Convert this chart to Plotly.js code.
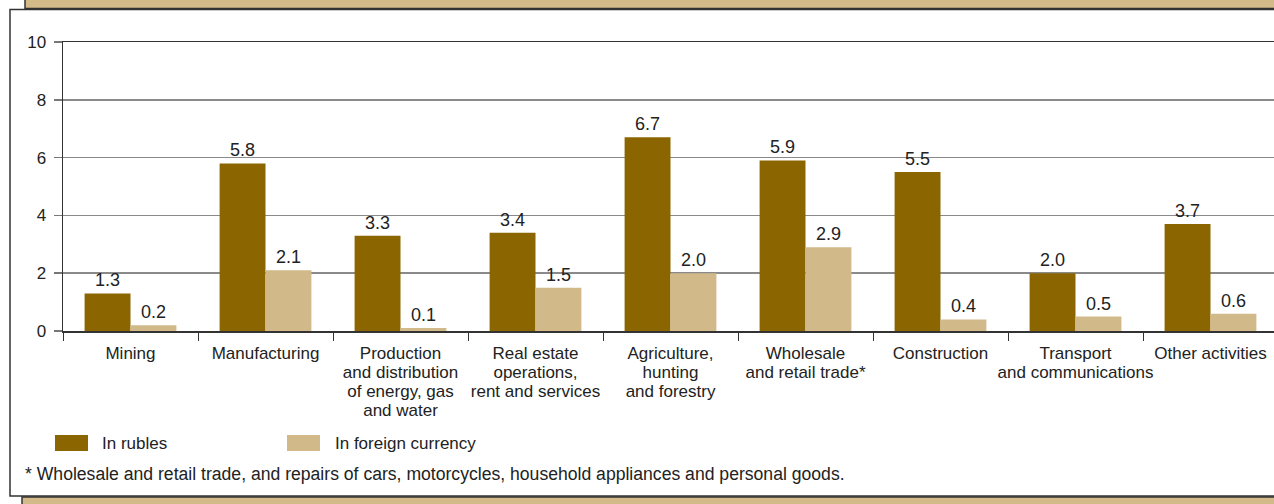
<!DOCTYPE html>
<html>
<head>
<meta charset="utf-8">
<script src="https://cdn.plot.ly/plotly-3.0.1.min.js"></script>
<style>
html,body{margin:0;padding:0;background:#fff;overflow:hidden;}
#chart{width:1274px;height:504px;}
</style>
</head>
<body>
<div id="chart"></div>
<script>
// ---- data ----
const categories = [
  "Mining",
  "Manufacturing",
  "Production<br>and distribution<br>of energy, gas<br>and water",
  "Real estate<br>operations,<br>rent and services",
  "Agriculture,<br>hunting<br>and forestry",
  "Wholesale<br>and retail trade*",
  "Construction",
  "Transport<br>and communications",
  "Other activities"
];
const inRubles = [1.3, 5.8, 3.3, 3.4, 6.7, 5.9, 5.5, 2.0, 3.7];
const inForeign = [0.2, 2.1, 0.1, 1.5, 2.0, 2.9, 0.4, 0.5, 0.6];
const seriesNames = ["In rubles", "In foreign currency"];
const yTicks = [0, 2, 4, 6, 8, 10];
const footnote = "* Wholesale and retail trade, and repairs of cars, motorcycles, household appliances and personal goods.";

// ---- styling ----
const FONT = '"Liberation Sans", Arial, Helvetica, sans-serif';
const TXT = '#222';
const C_RUB = '#8B6600';
const C_FOR = '#D2B989';
const TAN = '#D3BA88';
const DARK = '#333';

const W = 1274, H = 504;
const L = 63, R = 0, T = 42, B = 173;
const pw = W - L - R, ph = H - T - B;
const catPx = 135;
const px2x = p => (p - L) / pw;
const px2y = p => (H - B - p) / ph;

const traces = [
  {type:'bar', name:seriesNames[0], x:categories, y:inRubles, marker:{color:C_RUB},
   texttemplate:'%{y:.1f}', textposition:'outside', cliponaxis:false,
   textfont:{family:FONT, size:18, color:TXT}, hoverinfo:'skip'},
  {type:'bar', name:seriesNames[1], x:categories, y:inForeign, marker:{color:C_FOR},
   texttemplate:'%{y:.1f}', textposition:'outside', cliponaxis:false,
   textfont:{family:FONT, size:18, color:TXT}, hoverinfo:'skip'}
];

const shapes = [
  {type:'rect', xref:'paper', yref:'paper', layer:'below',
   x0:px2x(25), x1:px2x(1290), y0:px2y(-5), y1:px2y(8.5),
   fillcolor:TAN, line:{color:DARK, width:1.5}},
  {type:'rect', xref:'paper', yref:'paper', layer:'below',
   x0:px2x(10), x1:px2x(1290), y0:px2y(9.5), y1:px2y(496),
   fillcolor:'rgba(0,0,0,0)', line:{color:DARK, width:1.5}},
  {type:'rect', xref:'paper', yref:'paper', layer:'below',
   x0:px2x(22), x1:px2x(1290), y0:px2y(497), y1:px2y(510),
   fillcolor:TAN, line:{color:DARK, width:1.5}},
  {type:'rect', xref:'paper', yref:'paper',
   x0:px2x(55), x1:px2x(88), y0:px2y(435), y1:px2y(451),
   fillcolor:C_RUB, line:{width:0}},
  {type:'rect', xref:'paper', yref:'paper',
   x0:px2x(287), x1:px2x(320), y0:px2y(435), y1:px2y(451),
   fillcolor:C_FOR, line:{width:0}}
];

const annotations = [
  {xref:'paper', yref:'paper', x:px2x(100), y:px2y(443), xanchor:'left', yanchor:'middle',
   text:seriesNames[0], showarrow:false, font:{family:FONT, size:17, color:TXT}},
  {xref:'paper', yref:'paper', x:px2x(333), y:px2y(443), xanchor:'left', yanchor:'middle',
   text:seriesNames[1], showarrow:false, font:{family:FONT, size:17, color:TXT}},
  {xref:'paper', yref:'paper', x:px2x(23), y:px2y(474), xanchor:'left', yanchor:'middle',
   text:footnote, showarrow:false, font:{family:FONT, size:17.6, color:TXT}}
];

const layout = {
  width:W, height:H,
  margin:{l:L, r:R, t:T, b:B, pad:0},
  paper_bgcolor:'#fff', plot_bgcolor:'rgba(0,0,0,0)',
  font:{family:FONT, color:TXT},
  showlegend:false,
  barmode:'group', bargap:0.32, bargroupgap:0,
  xaxis:{
    type:'category', range:[-0.5, -0.5 + pw / catPx], fixedrange:true,
    showline:true, linecolor:DARK, linewidth:1.5, mirror:true,
    ticks:'outside', tickson:'boundaries', ticklen:8, tickcolor:DARK, tickwidth:1,
    showgrid:false, tickfont:{family:FONT, size:17, color:TXT}, tickangle:0,
    ticklabelstandoff:6
  },
  yaxis:{
    range:[0, 10], tickvals:yTicks, fixedrange:true,
    showline:true, linecolor:DARK, linewidth:1.5,
    ticks:'outside', ticklen:8, tickcolor:'#777', tickwidth:1.5,
    showgrid:true, gridcolor:'#8a8a8a', gridwidth:1.5, zeroline:false,
    tickfont:{family:FONT, size:17, color:TXT}, ticklabelstandoff:4
  },
  shapes:shapes,
  annotations:annotations
};

Plotly.newPlot('chart', traces, layout, {displayModeBar:false, staticPlot:true}).then(gd => {
  // tighten line spacing of multi-line category labels (1.3em -> 1.12em per line)
  gd.querySelectorAll('.xtick text tspan.line').forEach(ts => {
    const dy = parseFloat(ts.getAttribute('dy'));
    if (dy) {
      const idx = Math.round(dy / 1.3);
      ts.setAttribute('dy', (idx * 1.12) + 'em');
    }
  });
});
</script>
</body>
</html>
